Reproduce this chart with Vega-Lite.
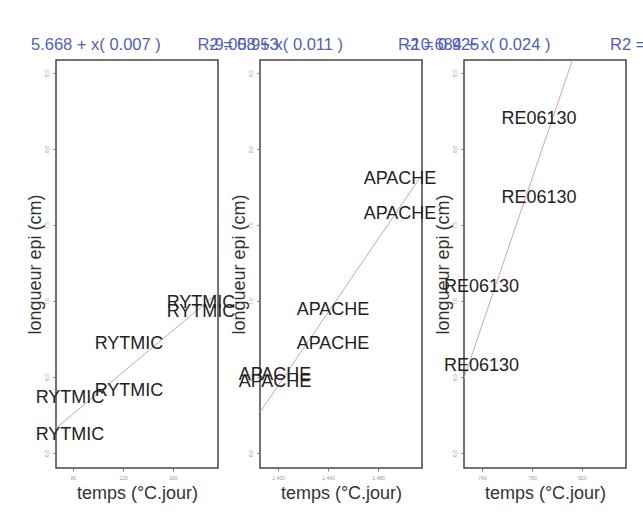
{
  "$schema": "https://vega.github.io/schema/vega-lite/v6.json",
  "background": "white",
  "padding": {"left": 25, "top": 35, "right": 0, "bottom": 0},
  "bounds": "flush",
  "spacing": 42,
  "datasets": {
    "rytmic": [
      {"variete": "RYTMIC", "temps": 77.6, "longueur": 6.12},
      {"variete": "RYTMIC", "temps": 77.6, "longueur": 6.36},
      {"variete": "RYTMIC", "temps": 124.8, "longueur": 6.41},
      {"variete": "RYTMIC", "temps": 124.8, "longueur": 6.72},
      {"variete": "RYTMIC", "temps": 182.4, "longueur": 6.99},
      {"variete": "RYTMIC", "temps": 182.4, "longueur": 6.93}
    ],
    "apache": [
      {"variete": "APACHE", "temps": 1397.6, "longueur": 6.51},
      {"variete": "APACHE", "temps": 1397.6, "longueur": 6.47},
      {"variete": "APACHE", "temps": 1444.0, "longueur": 6.72},
      {"variete": "APACHE", "temps": 1444.0, "longueur": 6.94},
      {"variete": "APACHE", "temps": 1497.6, "longueur": 7.57},
      {"variete": "APACHE", "temps": 1497.6, "longueur": 7.80}
    ],
    "re06130": [
      {"variete": "RE06130", "temps": 785.6, "longueur": 8.20},
      {"variete": "RE06130", "temps": 785.6, "longueur": 7.68},
      {"variete": "RE06130", "temps": 739.6, "longueur": 7.09},
      {"variete": "RE06130", "temps": 739.6, "longueur": 6.57}
    ]
  },
  "config": {
    "font": "Liberation Sans",
    "view": {"stroke": "#444", "strokeWidth": 1.5},
    "axis": {
      "domain": false, "grid": false, "tickColor": "#777", "tickSize": 3,
      "labelFontSize": 5, "labelColor": "#999", "labelPadding": 4,
      "titleFontSize": 18, "titleFontWeight": "normal", "titleColor": "#333"
    },
    "axisY": {"labelAngle": -90, "titleX": -21, "titleY": 204, "titleBaseline": "middle", "titleAngle": -90},
    "axisX": {"titleY": 25, "titleBaseline": "middle"},
    "title": {"fontSize": 16.5, "fontWeight": "normal", "color": "#5060bb", "anchor": "start", "frame": "group", "baseline": "middle", "offset": 7},
    "text": {"fontSize": 18, "color": "#222"}
  },
  "hconcat": [
    {
      "width": 162, "height": 408,
      "title": {"text": "5.668 + x( 0.007 )\u00a0\u00a0\u00a0\u00a0\u00a0\u00a0\u00a0\u00a0R2 = 0.953", "dx": -25},
      "data": {"name": "rytmic"},
      "layer": [
        {
          "mark": {"type": "line", "clip": true, "color": "#d9a0b5", "strokeWidth": 1},
          "transform": [{"regression": "longueur", "on": "temps", "extent": [66.4, 196]}],
          "encoding": {
            "x": {"field": "temps", "type": "quantitative", "scale": {"domain": [66.4, 196], "nice": false, "zero": false}, "axis": {"title": "temps (°C.jour)", "values": [80, 100, 120, 140, 160, 180]}},
            "y": {"field": "longueur", "type": "quantitative", "scale": {"domain": [5.9013, 8.5855], "nice": false, "zero": false}, "axis": {"title": "longueur epi (cm)", "values": [6, 6.5, 7, 7.5, 8, 8.5]}}
          }
        },
        {
          "mark": {"type": "text"},
          "encoding": {
            "x": {"field": "temps", "type": "quantitative"},
            "y": {"field": "longueur", "type": "quantitative"},
            "text": {"field": "variete"}
          }
        }
      ]
    },
    {
      "width": 162, "height": 408,
      "title": {"text": "-9.058 + x( 0.011 )\u00a0\u00a0\u00a0\u00a0\u00a0\u00a0\u00a0\u00a0\u00a0\u00a0\u00a0\u00a0R2 = 0.925", "dx": -51},
      "data": {"name": "apache"},
      "layer": [
        {
          "mark": {"type": "line", "clip": true, "color": "#d9a0b5", "strokeWidth": 1},
          "transform": [{"regression": "longueur", "on": "temps", "extent": [1385.6, 1515.2]}],
          "encoding": {
            "x": {"field": "temps", "type": "quantitative", "scale": {"domain": [1385.6, 1515.2], "nice": false, "zero": false}, "axis": {"title": "temps (°C.jour)", "values": [1400, 1420, 1440, 1460, 1480, 1500]}},
            "y": {"field": "longueur", "type": "quantitative", "scale": {"domain": [5.9013, 8.5855], "nice": false, "zero": false}, "axis": {"title": "longueur epi (cm)", "values": [6, 6.5, 7, 7.5, 8, 8.5]}}
          }
        },
        {
          "mark": {"type": "text"},
          "encoding": {
            "x": {"field": "temps", "type": "quantitative"},
            "y": {"field": "longueur", "type": "quantitative"},
            "text": {"field": "variete"}
          }
        }
      ]
    },
    {
      "width": 162, "height": 408,
      "title": {"text": "-10.684 + x( 0.024 )\u00a0\u00a0\u00a0\u00a0\u00a0\u00a0\u00a0\u00a0\u00a0\u00a0\u00a0\u00a0\u00a0R2 = 0.98", "dx": -58},
      "data": {"name": "re06130"},
      "layer": [
        {
          "mark": {"type": "line", "clip": true, "color": "#d9a0b5", "strokeWidth": 1},
          "transform": [{"regression": "longueur", "on": "temps", "extent": [725.6, 855.2]}],
          "encoding": {
            "x": {"field": "temps", "type": "quantitative", "scale": {"domain": [725.6, 855.2], "nice": false, "zero": false}, "axis": {"title": "temps (°C.jour)", "values": [740, 760, 780, 800, 820, 840]}},
            "y": {"field": "longueur", "type": "quantitative", "scale": {"domain": [5.9013, 8.5855], "nice": false, "zero": false}, "axis": {"title": "longueur epi (cm)", "values": [6, 6.5, 7, 7.5, 8, 8.5]}}
          }
        },
        {
          "mark": {"type": "text"},
          "encoding": {
            "x": {"field": "temps", "type": "quantitative"},
            "y": {"field": "longueur", "type": "quantitative"},
            "text": {"field": "variete"}
          }
        }
      ]
    }
  ]
}
